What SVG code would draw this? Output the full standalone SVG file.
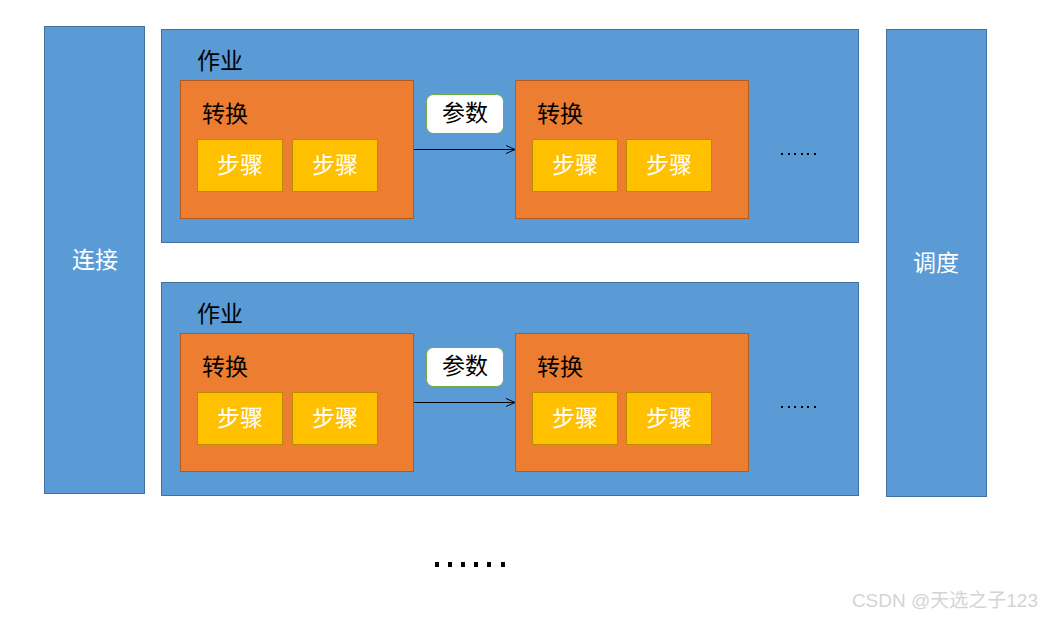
<svg xmlns="http://www.w3.org/2000/svg" width="1041" height="618" viewBox="0 0 1041 618">
<style>
.blue{fill:#5b9bd5;stroke:#41719c;stroke-width:1}
.trans{fill:#ed7d31;stroke:#ae5a21;stroke-width:1}
.step{fill:#ffc000;stroke:#bc8c00;stroke-width:1}
.param{fill:#ffffff;stroke:#70ad47;stroke-width:1}
text{font-family:"Noto Sans CJK SC","Liberation Sans",sans-serif;font-size:23px}
.w{fill:#ffffff;text-anchor:middle}
.k{fill:#000000}
.c{text-anchor:middle}
.dots{fill:#000}
</style>
<defs>
<marker id="arr" markerWidth="12" markerHeight="12" refX="10" refY="6" orient="auto" markerUnits="userSpaceOnUse">
<path d="M1,2 L10,6 L1,10" fill="none" stroke="#000" stroke-width="1"/>
</marker>
</defs>
<rect x="0" y="0" width="1041" height="618" fill="#ffffff"/>
<g id="connect">
<rect class="blue" x="44.5" y="26.5" width="100" height="467"/>
<text class="w" x="95" y="268">连接</text>
</g>
<g id="schedule">
<rect class="blue" x="886.5" y="29.5" width="100" height="467"/>
<text class="w" x="936" y="271">调度</text>
</g>
<g id="job1">
<rect class="blue" x="161.5" y="29.5" width="697" height="213"/>
<text class="k" x="197" y="69">作业</text>
</g>
<g id="job1-trans1">
<rect class="trans" x="180.5" y="80.5" width="233" height="138"/>
<text class="k" x="202" y="122">转换</text>
</g>
<g id="job1-trans1-step1"><rect class="step" x="197.5" y="139.5" width="85" height="52"/><text class="w" x="240" y="173">步骤</text></g>
<g id="job1-trans1-step2"><rect class="step" x="292.5" y="139.5" width="85" height="52"/><text class="w" x="335" y="173">步骤</text></g>
<g id="job1-param"><rect class="param" x="426.5" y="94.5" width="77" height="39" rx="7"/><text class="k c" x="465" y="121">参数</text></g>
<g id="job1-trans2">
<rect class="trans" x="515.5" y="80.5" width="233" height="138"/>
<text class="k" x="537" y="122">转换</text>
</g>
<g id="job1-trans2-step1"><rect class="step" x="532.5" y="139.5" width="85" height="52"/><text class="w" x="575" y="173">步骤</text></g>
<g id="job1-trans2-step2"><rect class="step" x="626.5" y="139.5" width="85" height="52"/><text class="w" x="669" y="173">步骤</text></g>
<g id="job1-more" class="dots">
<rect x="781" y="153" width="2" height="2"/><rect x="788" y="153" width="2" height="2"/><rect x="794" y="153" width="2" height="2"/><rect x="801" y="153" width="2" height="2"/><rect x="807" y="153" width="2" height="2"/><rect x="814" y="153" width="2" height="2"/>
</g>
<g id="job2">
<rect class="blue" x="161.5" y="282.5" width="697" height="213"/>
<text class="k" x="197" y="322">作业</text>
</g>
<g id="job2-trans1">
<rect class="trans" x="180.5" y="333.5" width="233" height="138"/>
<text class="k" x="202" y="375">转换</text>
</g>
<g id="job2-trans1-step1"><rect class="step" x="197.5" y="392.5" width="85" height="52"/><text class="w" x="240" y="426">步骤</text></g>
<g id="job2-trans1-step2"><rect class="step" x="292.5" y="392.5" width="85" height="52"/><text class="w" x="335" y="426">步骤</text></g>
<g id="job2-param"><rect class="param" x="426.5" y="347.5" width="77" height="39" rx="7"/><text class="k c" x="465" y="374">参数</text></g>
<g id="job2-trans2">
<rect class="trans" x="515.5" y="333.5" width="233" height="138"/>
<text class="k" x="537" y="375">转换</text>
</g>
<g id="job2-trans2-step1"><rect class="step" x="532.5" y="392.5" width="85" height="52"/><text class="w" x="575" y="426">步骤</text></g>
<g id="job2-trans2-step2"><rect class="step" x="626.5" y="392.5" width="85" height="52"/><text class="w" x="669" y="426">步骤</text></g>
<g id="job2-more" class="dots">
<rect x="781" y="406" width="2" height="2"/><rect x="788" y="406" width="2" height="2"/><rect x="794" y="406" width="2" height="2"/><rect x="801" y="406" width="2" height="2"/><rect x="807" y="406" width="2" height="2"/><rect x="814" y="406" width="2" height="2"/>
</g>
<g id="connectors" fill="none" stroke="#000" stroke-width="1">
<line x1="414" y1="149.5" x2="515" y2="149.5" marker-end="url(#arr)"/>
<line x1="414" y1="402.5" x2="515" y2="402.5" marker-end="url(#arr)"/>
</g>
<g id="more-jobs" class="dots">
<rect x="435" y="562" width="4" height="5"/><rect x="448" y="562" width="4" height="5"/><rect x="461" y="562" width="4" height="5"/><rect x="474" y="562" width="4" height="5"/><rect x="487" y="562" width="4" height="5"/><rect x="501" y="562" width="4" height="5"/>
</g>
<text x="1038" y="607" text-anchor="end" style="font-size:19px;fill:#d4d4d4;font-family:'Liberation Sans','Noto Sans CJK SC',sans-serif">CSDN @天选之子123</text>
</svg>
